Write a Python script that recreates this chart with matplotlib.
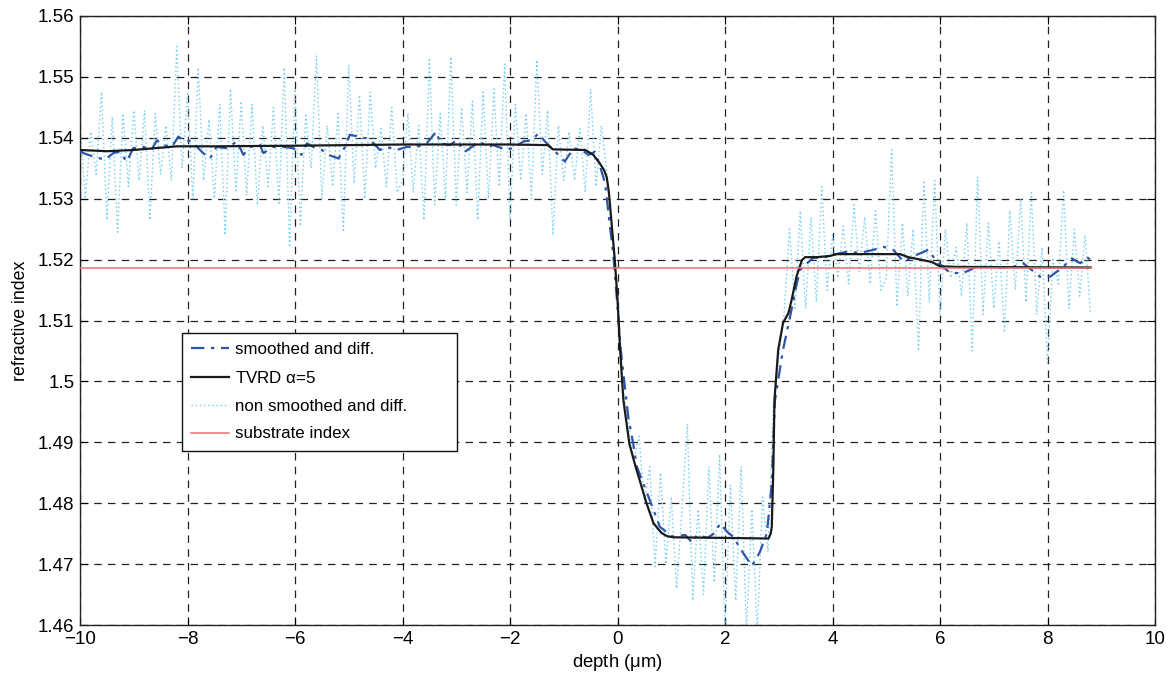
import numpy as np
import matplotlib
matplotlib.use("Agg")
import matplotlib.pyplot as plt

plt.rcParams['font.family'] = ['Liberation Sans', 'DejaVu Sans']
plt.rcParams['mathtext.fontset'] = 'custom'
plt.rcParams['mathtext.rm'] = 'Liberation Sans'
plt.rcParams['mathtext.it'] = 'Liberation Sans'

# ---------------- data ----------------
# non smoothed and differentiated profile, sampled every 0.1 um from -10 to 8.8
noisy_start = -10.0
noisy_step = 0.1
noisy_index = [
    1.5420, 1.5300, 1.5410, 1.5340, 1.5475, 1.5265, 1.5435, 1.5245, 1.5440, 1.5320,   # -10.0 .. -9.1
    1.5445, 1.5330, 1.5445, 1.5265, 1.5440, 1.5340, 1.5420, 1.5330, 1.5550, 1.5350,   # -9.0 .. -8.1
    1.5475, 1.5300, 1.5515, 1.5330, 1.5430, 1.5300, 1.5455, 1.5240, 1.5480, 1.5310,   # -8.0 .. -7.1
    1.5460, 1.5305, 1.5455, 1.5290, 1.5420, 1.5320, 1.5450, 1.5290, 1.5515, 1.5220,   # -7.0 .. -6.1
    1.5480, 1.5255, 1.5440, 1.5350, 1.5535, 1.5300, 1.5420, 1.5320, 1.5440, 1.5245,   # -6.0 .. -5.1
    1.5520, 1.5325, 1.5470, 1.5300, 1.5475, 1.5350, 1.5415, 1.5320, 1.5450, 1.5310,   # -5.0 .. -4.1
    1.5330, 1.5440, 1.5310, 1.5420, 1.5265, 1.5528, 1.5290, 1.5440, 1.5300, 1.5533,   # -4.0 .. -3.1
    1.5290, 1.5450, 1.5310, 1.5460, 1.5265, 1.5475, 1.5300, 1.5480, 1.5320, 1.5521,   # -3.0 .. -2.1
    1.5265, 1.5455, 1.5330, 1.5440, 1.5300, 1.5528, 1.5340, 1.5445, 1.5240, 1.5420,   # -2.0 .. -1.1
    1.5330, 1.5410, 1.5330, 1.5415, 1.5310, 1.5480, 1.5320, 1.5420, 1.5345, 1.5250,   # -1.0 .. -0.1
    1.5150, 1.4990, 1.4935, 1.4870, 1.4910, 1.4800, 1.4860, 1.4696, 1.4850, 1.4700,   #  0.0 ..  0.9
    1.4810, 1.4660, 1.4790, 1.4930, 1.4640, 1.4790, 1.4650, 1.4860, 1.4670, 1.4880,   #  1.0 ..  1.9
    1.4590, 1.4830, 1.4640, 1.4860, 1.4590, 1.4790, 1.4590, 1.4810, 1.4720, 1.4960,   #  2.0 ..  2.9
    1.5040, 1.5110, 1.5250, 1.5120, 1.5280, 1.5120, 1.5270, 1.5130, 1.5320, 1.5150,   #  3.0 ..  3.9
    1.5240, 1.5170, 1.5255, 1.5160, 1.5290, 1.5180, 1.5270, 1.5160, 1.5280, 1.5150,   #  4.0 ..  4.9
    1.5170, 1.5380, 1.5123, 1.5260, 1.5140, 1.5250, 1.5050, 1.5330, 1.5130, 1.5330,   #  5.0 ..  5.9
    1.5110, 1.5250, 1.5170, 1.5220, 1.5140, 1.5260, 1.5050, 1.5336, 1.5110, 1.5260,   #  6.0 ..  6.9
    1.5120, 1.5230, 1.5080, 1.5280, 1.5150, 1.5300, 1.5130, 1.5310, 1.5110, 1.5220,   #  7.0 ..  7.9
    1.5030, 1.5200, 1.5160, 1.5314, 1.5120, 1.5250, 1.5140, 1.5240, 1.5110,           #  8.0 ..  8.8
]

# smoothed and differentiated profile
smooth_depth = [-10.0, -9.94, -9.75, -9.53, -9.38, -9.26, -9.13, -9.01, -8.82, -8.67, -8.57, -8.45,
                -8.29, -8.17, -8.08, -7.92, -7.80, -7.71, -7.58, -7.46, -7.27, -7.08, -6.96, -6.84,
                -6.65, -6.59, -6.40, -6.22, -6.03, -5.88, -5.78, -5.66, -5.50, -5.38, -5.19, -5.07,
                -4.98, -4.82, -4.67, -4.54, -4.42, -4.29, -4.11, -3.92, -3.74, -3.55, -3.37, -3.30,
                -3.12, -2.99, -2.84, -2.71, -2.56, -2.43, -2.31, -2.16, -2.06, -1.91, -1.75, -1.60,
                -1.47, -1.35, -1.19, -1.10, -0.98, -0.82, -0.67, -0.54, -0.42, -0.33, -0.23, -0.14,
                -0.08, -0.01, 0.06, 0.20, 0.29, 0.36, 0.60, 0.79, 1.03, 1.26, 1.39, 1.48, 1.67,
                1.81, 1.91, 2.04, 2.15, 2.34, 2.50, 2.65, 2.78, 2.87, 2.93, 3.08, 3.21, 3.34, 3.40,
                3.49, 3.64, 3.83, 4.01, 4.27, 4.51, 4.76, 4.95, 5.13, 5.32, 5.57, 5.78, 5.94, 6.19,
                6.43, 6.68, 6.99, 7.30, 7.55, 7.86, 8.05, 8.29, 8.45, 8.61, 8.73, 8.80]
smooth_index = [1.5378, 1.5375, 1.5369, 1.5364, 1.5375, 1.5377, 1.5361, 1.5383, 1.5385, 1.5380, 1.5396, 1.5388,
                1.5385, 1.5402, 1.5396, 1.5394, 1.5383, 1.5375, 1.5366, 1.5385, 1.5383, 1.5394, 1.5372, 1.5385,
                1.5388, 1.5375, 1.5385, 1.5385, 1.5383, 1.5372, 1.5391, 1.5385, 1.5380, 1.5372, 1.5366, 1.5385,
                1.5405, 1.5402, 1.5399, 1.5391, 1.5380, 1.5385, 1.5380, 1.5385, 1.5385, 1.5391, 1.5410, 1.5391,
                1.5388, 1.5396, 1.5377, 1.5385, 1.5394, 1.5385, 1.5388, 1.5383, 1.5380, 1.5385, 1.5394, 1.5396,
                1.5407, 1.5394, 1.5380, 1.5372, 1.5361, 1.5383, 1.5380, 1.5372, 1.5377, 1.5355, 1.5325, 1.5254,
                1.5210, 1.5134, 1.5052, 1.4942, 1.4899, 1.4860, 1.4805, 1.4761, 1.4745, 1.4748, 1.4735, 1.4748, 1.4743,
                1.4751, 1.4767, 1.4753, 1.4745, 1.4718, 1.4697, 1.4720, 1.4751, 1.4833, 1.4969, 1.5052, 1.5106, 1.5162, 1.5183,
                1.5191, 1.5203, 1.5203, 1.5208, 1.5213, 1.5211, 1.5216, 1.5221, 1.5216, 1.5197, 1.5208, 1.5216, 1.5197, 1.5178,
                1.5178, 1.5188, 1.5188, 1.5186, 1.5194, 1.5172, 1.5172, 1.5188, 1.5202, 1.5194, 1.5204, 1.5200]

# TVRD reconstruction (alpha = 5)
tvrd_depth = [-10.0, -9.5, -9.0, -8.6, -8.2, -7.5, -6.0, -5.0, -4.0, -2.0, -1.3, -1.2, -0.6, -0.45,
              -0.33, -0.25, -0.20, -0.16, -0.14, -0.05, 0.0, 0.05, 0.11, 0.22, 0.33, 0.54, 0.67,
              0.82, 0.92, 1.04, 2.0, 2.81, 2.85, 2.87, 2.90, 2.92, 2.99, 3.08, 3.18, 3.24, 3.33,
              3.43, 3.49, 3.71, 3.95, 4.08, 5.26, 5.41, 5.69, 5.85, 6.0, 6.31, 8.8]
tvrd_index = [1.5380, 1.5378, 1.5380, 1.5383, 1.5386, 1.5386, 1.5387, 1.5388, 1.5389, 1.5389, 1.5388, 1.5381, 1.5380, 1.5372,
              1.5358, 1.5347, 1.5335, 1.5310, 1.5290, 1.5199, 1.5134, 1.5050, 1.4969, 1.4898, 1.4862, 1.4800, 1.4767,
              1.4751, 1.4746, 1.4744, 1.4743, 1.4742, 1.4750, 1.4761, 1.4860, 1.4969, 1.5052, 1.5096, 1.5112, 1.5134, 1.5172,
              1.5199, 1.5204, 1.5204, 1.5206, 1.5209, 1.5209, 1.5204, 1.5199, 1.5196, 1.5189, 1.5188, 1.5187]

substrate_depth = [-10.0, 8.8]
substrate_index = [1.5187, 1.5187]

labels = ["smoothed and diff.", r"TVRD $\alpha$=5", "non smoothed and diff.", "substrate index"]

# ---------------- figure ----------------
noisy_depth = noisy_start + noisy_step * np.arange(len(noisy_index))

fig = plt.figure(figsize=(11.73, 6.84), dpi=100)
ax = fig.add_axes([80 / 1173, 59 / 684, 1075 / 1173, 609 / 684])

l1, = ax.plot(smooth_depth, smooth_index, linestyle=(0, (6, 3, 1.5, 3)), color='#2F55A8', lw=1.6, zorder=3)
l2, = ax.plot(tvrd_depth, tvrd_index, '-', color='#1a1a1a', lw=1.6, zorder=4)
l3, = ax.plot(noisy_depth, noisy_index, linestyle=(0, (1, 2)), color='#6FCDF2', lw=1.0, zorder=2)
l4, = ax.plot(substrate_depth, substrate_index, '-', color='#EE6F74', lw=1.1, zorder=5)

ax.set_xlim(-10, 10)
ax.set_ylim(1.46, 1.56)
ax.set_xticks(np.arange(-10, 11, 2))
yt = np.round(np.arange(1.46, 1.5601, 0.01), 2)
ax.set_yticks(yt)
ax.set_yticklabels([("%g" % v) for v in yt])

ax.grid(True, color='#222222', linestyle=(0, (6, 5)), lw=0.9)
ax.tick_params(direction='in', length=6, top=True, right=True, labelsize=13.5, width=0.8, pad=4)
for s in ax.spines.values():
    s.set_linewidth(1.0)
    s.set_color('#222222')

ax.set_xlabel(r"depth ($\mu$m)", fontsize=13.3, labelpad=3)
ax.set_ylabel("refractive index", fontsize=12.8, labelpad=6)

leg = ax.legend([l1, l2, l3, l4], labels, loc='upper left', mode='expand',
                bbox_to_anchor=((182 - 80) / 1075, (625 - 449) / 609, (457 - 182) / 1075, (449 - 333) / 609),
                borderaxespad=0, fontsize=12.2, frameon=True, fancybox=False,
                edgecolor='#111111', framealpha=1, handlelength=2.2, handletextpad=0.35,
                labelspacing=0.75, borderpad=0.55)
leg.get_frame().set_linewidth(1.0)

fig.savefig("out.png", dpi=100)
